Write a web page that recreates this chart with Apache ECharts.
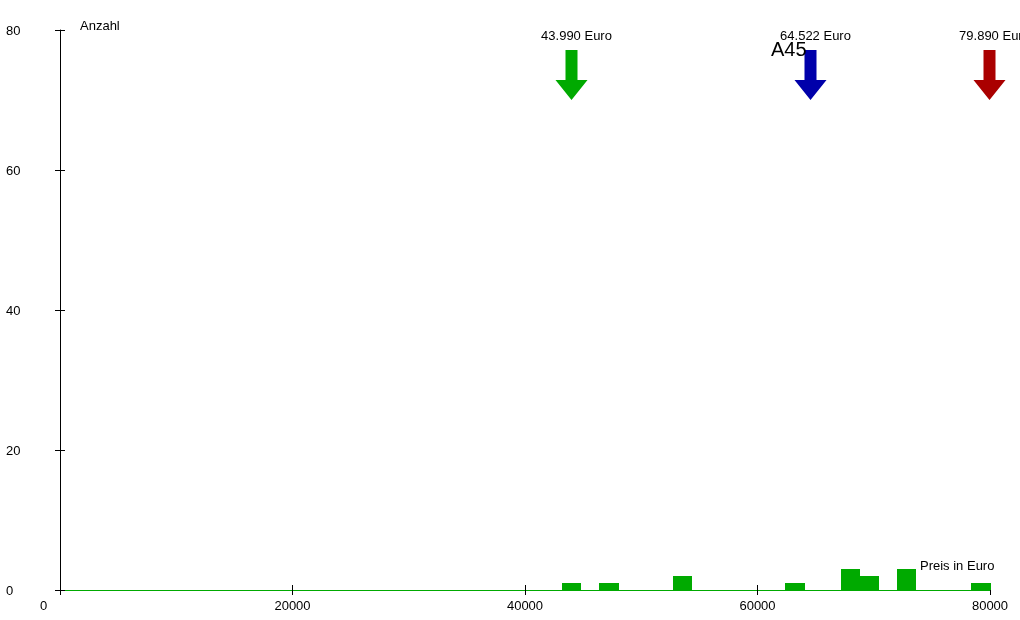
<!DOCTYPE html>
<html><head><meta charset="utf-8">
<script src="https://cdn.jsdelivr.net/npm/echarts@6/dist/echarts.min.js"></script>
<style>html,body{margin:0;padding:0;background:#fff}#c{width:1020px;height:620px}</style>
</head><body><div id="c"></div>
<script>
// Histogram bins (price range start, end) and counts
const binStarts = [43200, 46400, 52750, 62400, 67150, 68800, 72000, 78400];
const binEnds   = [44850, 48050, 54400, 64050, 68800, 70450, 73650, 80050];
const counts    = [1, 1, 2, 1, 3, 2, 3, 1];
// Price markers (arrows)
const markerPrices = [43990, 64522, 79890];
const markerLabels = ['43.990 Euro', '64.522 Euro', '79.890 Euro'];
const markerNames  = ['', 'A45', ''];
const markerColors = ['#00aa00', '#0000aa', '#aa0000'];
// Axis texts
const yName = 'Anzahl';
const xName = 'Preis in Euro';

const FONT = "'Liberation Sans', Arial, sans-serif";
const chart = echarts.init(document.getElementById('c'), null, {renderer: 'canvas'});

const binData = binStarts.map((s, i) => [s, binEnds[i], counts[i]]);
const markerData = markerPrices.map((p, i) => [p, i]);

const xCommon = {type: 'value', min: 0, max: 80000, interval: 20000, gridIndex: 0, position: 'bottom', splitLine: {show: false}};
const yCommon = {type: 'value', min: 0, max: 80, interval: 20, gridIndex: 0, position: 'left', splitLine: {show: false}};

chart.setOption({
  animation: false,
  backgroundColor: '#ffffff',
  grid: {left: 60, right: 30, top: 30, bottom: 30, containLabel: false},
  xAxis: [
    Object.assign({}, xCommon, {
      axisLine: {show: true, onZero: false, lineStyle: {color: '#00aa00', width: 1}},
      axisTick: {show: true, inside: false, length: 5, lineStyle: {color: '#000'}},
      axisLabel: {
        show: true, color: '#000', fontSize: 13, fontFamily: FONT, margin: 10,
        formatter: v => v === 0 ? '{z|0}' : String(v),
        rich: {z: {fontSize: 13, fontFamily: FONT, color: '#000', padding: [0, 33, 0, 0]}}
      }
    }),
    Object.assign({}, xCommon, {
      axisLine: {show: false, onZero: false},
      axisTick: {show: true, inside: true, length: 5, lineStyle: {color: '#000'}},
      axisLabel: {show: false}
    })
  ],
  yAxis: [
    Object.assign({}, yCommon, {
      axisLine: {show: true, onZero: false, lineStyle: {color: '#000', width: 1}},
      axisTick: {show: true, inside: false, length: 5, lineStyle: {color: '#000'}},
      axisLabel: {
        show: true, color: '#000', fontSize: 13, fontFamily: FONT, align: 'left', margin: 54,
        formatter: v => '{a|' + v + '}',
        rich: {a: {fontSize: 13, fontFamily: FONT, color: '#000', padding: [3, 0, 0, 0]}}
      }
    }),
    Object.assign({}, yCommon, {
      axisLine: {show: false, onZero: false},
      axisTick: {show: true, inside: true, length: 5, lineStyle: {color: '#000'}},
      axisLabel: {show: false}
    })
  ],
  graphic: [
    {type: 'text', left: 80, top: 20, style: {text: yName, fill: '#000', font: '13px ' + FONT}},
    {type: 'text', left: 920, top: 560, style: {text: xName, fill: '#000', font: '13px ' + FONT}}
  ],
  series: [
    {
      type: 'custom', xAxisIndex: 0, yAxisIndex: 0,
      data: binData,
      encode: {x: [0, 1], y: 2},
      renderItem: (params, api) => {
        const s = api.coord([api.value(0), api.value(2)]);
        const e = api.coord([api.value(1), 0]);
        return {type: 'rect', shape: {x: Math.round(s[0]), y: Math.round(s[1]), width: Math.round(e[0]) - Math.round(s[0]), height: Math.round(e[1]) - Math.round(s[1])}, style: {fill: '#00aa00'}};
      }
    },
    {
      type: 'custom', xAxisIndex: 0, yAxisIndex: 0, clip: false,
      data: markerData,
      encode: {x: 0},
      renderItem: (params, api) => {
        const i = params.dataIndex;
        const p = api.coord([api.value(0), 70]);
        const x = Math.round(p[0]) + 0.5, t = Math.round(p[1]);
        const children = [
          {type: 'polygon', shape: {points: [[x - 6, t - 50], [x + 6, t - 50], [x + 6, t - 20], [x + 16, t - 20], [x, t], [x - 16, t - 20], [x - 6, t - 20]]}, style: {fill: markerColors[i]}},
          {type: 'text', style: {x: x + 5, y: t - 64, text: markerLabels[i], fill: '#000', font: '13px ' + FONT, align: 'center', verticalAlign: 'middle'}}
        ];
        if (markerNames[i]) {
          children.push({type: 'text', style: {x: x - 4, y: t - 50, text: markerNames[i], fill: '#000', font: '20px ' + FONT, align: 'right', verticalAlign: 'middle'}});
        }
        return {type: 'group', children: children};
      }
    }
  ]
});
</script>
</body></html>
